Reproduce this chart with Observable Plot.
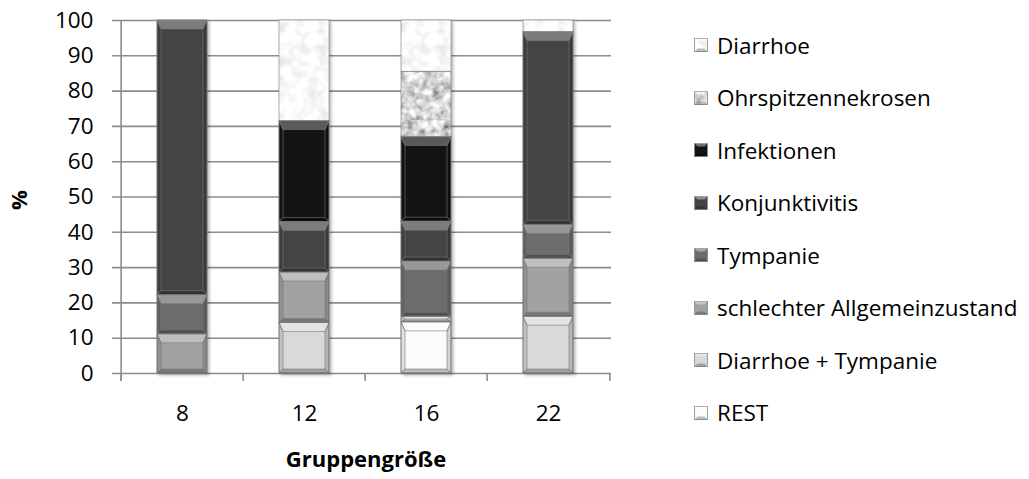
<!DOCTYPE html>
<html>
<head>
<meta charset="utf-8">
<script src="https://cdn.jsdelivr.net/npm/d3@7"></script>
<script src="https://cdn.jsdelivr.net/npm/@observablehq/plot@0.6"></script>
<style>
  body { margin: 0; background: #fff; font-family: "Open Sans", sans-serif; }
  #wrap { position: relative; width: 1029px; height: 479px; overflow: hidden; }
  #chart { position: absolute; left: 0; top: 0; }
  #legend { position: absolute; left: 694px; top: 0; }
  .row { position: absolute; left: 0; display: flex; align-items: center; white-space: nowrap; font-size: 22.5px; color: #000; }
  .row svg { margin-right: 9px; }
</style>
</head>
<body>
<svg width="0" height="0" style="position:absolute">
  <defs>
    <filter id="noiseLight" x="0" y="0" width="120" height="120" filterUnits="userSpaceOnUse" primitiveUnits="userSpaceOnUse">
      <feTurbulence type="fractalNoise" baseFrequency="0.09" numOctaves="3" seed="3"/>
      <feColorMatrix type="matrix" values="0.5 0 0 0 0.7  0.5 0 0 0 0.7  0.5 0 0 0 0.7  0 0 0 0 1"/>
    </filter>
    <filter id="noiseDark" x="0" y="0" width="120" height="120" filterUnits="userSpaceOnUse" primitiveUnits="userSpaceOnUse">
      <feTurbulence type="fractalNoise" baseFrequency="0.11" numOctaves="3" seed="7"/>
      <feColorMatrix type="matrix" values="1.5 0 0 0 -0.08  1.5 0 0 0 -0.08  1.5 0 0 0 -0.08  0 0 0 0 1"/>
    </filter>
    <pattern id="mottleLight" patternUnits="userSpaceOnUse" width="120" height="120">
      <rect x="0" y="0" width="120" height="120" fill="#eee" filter="url(#noiseLight)"/>
    </pattern>
    <pattern id="mottleDark" patternUnits="userSpaceOnUse" width="120" height="120">
      <rect x="0" y="0" width="120" height="120" fill="#999" filter="url(#noiseDark)"/>
    </pattern>
  </defs>
</svg>
<div id="wrap">
  <div id="chart"></div>
  <div id="legend"></div>
</div>
<script>
// ---- data ----
const categories = ["8", "12", "16", "22"];
// stacking order, bottom to top
const seriesNames = [
  "REST",
  "Diarrhoe + Tympanie",
  "schlechter Allgemeinzustand",
  "Tympanie",
  "Konjunktivitis",
  "Infektionen",
  "Ohrspitzennekrosen",
  "Diarrhoe"
];
// percentages per group size (8, 12, 16, 22)
const REST = [0, 0, 14.5, 0];
const diarrhoeTympanie = [0, 14.3, 1.6, 16.1];
const schlechterAZ = [11.1, 14.3, 0, 16.4];
const tympanie = [11.1, 0, 15.6, 9.6];
const konjunktivitis = [77.8, 14.3, 11.3, 54.6];
const infektionen = [0, 28.6, 24.0, 0];
const ohrspitzennekrosen = [0, 0, 18.5, 0];
const diarrhoe = [0, 28.5, 14.5, 3.3];
const yTicks = [0, 10, 20, 30, 40, 50, 60, 70, 80, 90, 100];

const seriesValues = [REST, diarrhoeTympanie, schlechterAZ, tympanie, konjunktivitis, infektionen, ohrspitzennekrosen, diarrhoe];
const seriesColors = ["#fbfbfb", "#d9d9d9", "#a2a2a2", "#6c6c6c", "#444444", "#131313", "url(#mottleDark)", "url(#mottleLight)"];

const table = [];
seriesNames.forEach((s, si) => {
  categories.forEach((c, ci) => {
    const v = seriesValues[si][ci];
    if (v > 0) table.push({group: c, series: s, value: v});
  });
});

const W = 640, H = 479;
const mL = 120, mR = 29, mT = 20, mB = 106;
const step = (W - mL - mR) / categories.length;
const font = "Open Sans, sans-serif";

const plot = Plot.plot({
  width: W,
  height: H,
  marginLeft: mL,
  marginRight: mR,
  marginTop: mT,
  marginBottom: mB,
  style: {fontFamily: font, fontSize: "22px", color: "#000", background: "#fff"},
  x: {type: "band", domain: categories, paddingInner: 0.59, paddingOuter: 0.295, label: null},
  y: {domain: [0, 100], label: null},
  color: {type: "ordinal", domain: seriesNames, range: seriesColors},
  marks: [
    Plot.ruleY(yTicks, {stroke: "#8c8c8c", strokeWidth: 1.6, insetLeft: -8}),
    Plot.axisY({ticks: yTicks, tickSize: 0, tickPadding: 27, fontSize: 22.5, label: null, tickFormat: d => String(d)}),
    Plot.axisX({tickSize: 0, tickPadding: 32, fontSize: 22.5, label: null}),
    // category boundary ticks and vertical axis line
    Plot.ruleX(categories, {x: d => d, y1: 0, y2: 0, insetBottom: -8, dx: -step / 2, stroke: "#8c8c8c", strokeWidth: 1.6}),
    Plot.ruleX([categories[categories.length - 1]], {x: d => d, y1: 0, y2: 0, insetBottom: -8, dx: step / 2, stroke: "#8c8c8c", strokeWidth: 1.6}),
    Plot.ruleX([categories[0]], {x: d => d, y1: 100, y2: 0, insetBottom: -8, dx: -step / 2, stroke: "#8c8c8c", strokeWidth: 1.6}),
    Plot.barY(table, {x: "group", y: "value", fill: "series", order: seriesNames, stroke: "#7a7a7a", strokeWidth: 0.6}),
    Plot.text(["Gruppengröße"], {frameAnchor: "bottom", dy: 93, fontWeight: "bold", fontSize: 22, fill: "#000"}),
    Plot.text(["%"], {frameAnchor: "left", dx: -101, dy: 13, rotate: -90, fontWeight: "bold", fontSize: 22, fill: "#000"})
  ]
});

// bevel overlays derived from the rendered bar rectangles
const svgNS = "http://www.w3.org/2000/svg";
const barGroup = plot.querySelector('g[aria-label="bar"]');
if (barGroup) {
  barGroup.style.filter = "drop-shadow(2px 2px 1.5px rgba(0,0,0,0.28))";
  const ov = document.createElementNS(svgNS, "g");
  barGroup.querySelectorAll("rect").forEach(r => {
    const x = +r.getAttribute("x"), y = +r.getAttribute("y");
    const w = +r.getAttribute("width"), h = +r.getAttribute("height");
    if (h < 1) return;
    const fill = r.getAttribute("fill") || "";
    if (fill.startsWith("url")) return; // textured segments have no bevel
    const bt = Math.min(9, h / 2), bb = Math.min(4, h / 3), s = Math.min(4, w / 4);
    const poly = (pts, fill, op) => {
      const p = document.createElementNS(svgNS, "polygon");
      p.setAttribute("points", pts.map(q => q.join(",")).join(" "));
      p.setAttribute("fill", fill);
      p.setAttribute("fill-opacity", op);
      ov.appendChild(p);
    };
    poly([[x, y], [x + w, y], [x + w - s, y + bt], [x + s, y + bt]], "#fff", 0.3);
    poly([[x, y], [x + s, y + bt], [x + s, y + h - bb], [x, y + h]], "#000", 0.1);
    poly([[x + w, y], [x + w - s, y + bt], [x + w - s, y + h - bb], [x + w, y + h]], "#000", 0.16);
    poly([[x, y + h], [x + s, y + h - bb], [x + w - s, y + h - bb], [x + w, y + h]], "#000", 0.26);
  });
  barGroup.appendChild(ov);
}
document.getElementById("chart").appendChild(plot);

// legend (top entry = top of stack)
const legend = document.getElementById("legend");
const legendOrder = seriesNames.slice().reverse();
const rowY = [45, 97.5, 150, 202.5, 255, 307.5, 360, 412.5];
legendOrder.forEach((name, i) => {
  const row = document.createElement("div");
  row.className = "row";
  row.style.top = (rowY[i] - 15) + "px";
  row.style.height = "30px";
  const color = seriesColors[seriesNames.indexOf(name)];
  row.innerHTML = `<svg width="14" height="14"><rect x="0.5" y="0.5" width="13" height="13" fill="${color}" stroke="#888" stroke-width="0.8"/>
    <polygon points="0.5,0.5 13.5,0.5 10.5,3.5 3.5,3.5" fill="#fff" fill-opacity="0.4"/>
    <polygon points="0.5,13.5 13.5,13.5 10.5,10.5 3.5,10.5" fill="#000" fill-opacity="0.25"/></svg><span>${name}</span>`;
  legend.appendChild(row);
});
</script>
</body>
</html>
